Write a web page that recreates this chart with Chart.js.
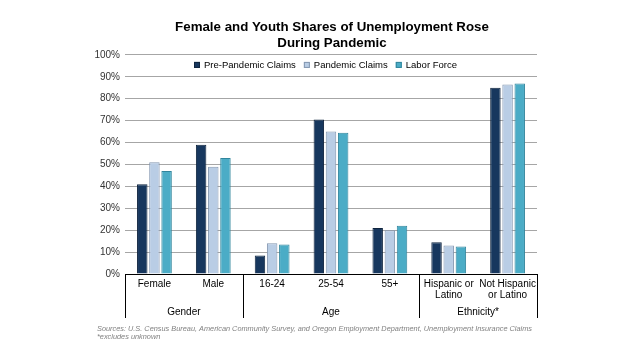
<!DOCTYPE html>
<html>
<head>
<meta charset="utf-8">
<script src="https://cdn.jsdelivr.net/npm/chart.js@4.4.1/dist/chart.umd.min.js"></script>
<style>
  html, body { margin: 0; padding: 0; background: #fff; }
  #wrap { width: 640px; height: 360px; position: relative; }
</style>
</head>
<body>
<div id="wrap"><canvas id="shareChart" width="640" height="360"></canvas></div>
<script>
// categories (multi-line labels) and their groups
var categories = [['Female'], ['Male'], ['16-24'], ['25-54'], ['55+'], ['Hispanic or', 'Latino'], ['Not Hispanic', 'or Latino']];
var groupNames = ['Gender', 'Age', 'Ethnicity*'];
var groupSizes = [2, 3, 2];

// shares in percent
var prePandemic = [41, 59, 8.5, 70.5, 21, 14.5, 85];
var pandemic = [51, 49, 14, 65, 20, 13, 86.5];
var laborForce = [47, 53, 13.5, 64.5, 22, 12.5, 87];

var yTicks = [0, 10, 20, 30, 40, 50, 60, 70, 80, 90, 100];

var titleLines = ['Female and Youth Shares of Unemployment Rose', 'During Pandemic'];
var sourceLines = [
  'Sources: U.S. Census Bureau, American Community Survey, and Oregon Employment Department, Unemployment Insurance Claims',
  '*excludes unknown'
];

var FONT = "'Liberation Sans', Arial, sans-serif";

// legend inside the plot, in one row, like the original
var rowLegendPlugin = {
  id: 'rowLegend',
  afterDatasetsDraw: function (chart) {
    var ctx = chart.ctx;
    var area = chart.chartArea;
    var sets = chart.data.datasets;
    var box = 6, gap = 4, spacing = 8;
    ctx.save();
    ctx.font = '9.5px ' + FONT;
    ctx.textBaseline = 'middle';
    ctx.textAlign = 'left';
    var total = 0;
    sets.forEach(function (ds, i) {
      total += box + gap + ctx.measureText(ds.label).width + (i < sets.length - 1 ? spacing : 0);
    });
    var cx = (area.left + area.right) / 2 - 6;
    var px = Math.round(cx - total / 2);
    var py = area.top + 10;
    sets.forEach(function (ds) {
      ctx.fillStyle = ds.backgroundColor;
      ctx.strokeStyle = ds.borderColor;
      ctx.lineWidth = 1;
      ctx.fillRect(px, py - box / 2, box, box);
      ctx.strokeRect(px + 0.5, py - box / 2 + 0.5, box - 1, box - 1);
      ctx.fillStyle = '#000';
      ctx.fillText(ds.label, px + box + gap, py + 0.5);
      px += box + gap + ctx.measureText(ds.label).width + spacing;
    });
    ctx.restore();
  }
};

// group labels, group separators and the source note under the axis
var groupAxisPlugin = {
  id: 'groupAxis',
  afterDraw: function (chart) {
    var ctx = chart.ctx;
    var x = chart.scales.x;
    var area = chart.chartArea;
    var lineTop = area.bottom;
    var lineBottom = area.bottom + 44;

    ctx.save();
    ctx.strokeStyle = '#000';
    ctx.lineWidth = 1;
    ctx.fillStyle = '#000';
    ctx.font = '10px ' + FONT;
    ctx.textAlign = 'center';
    ctx.textBaseline = 'middle';

    var idx = 0;
    var edges = [area.left];
    groupNames.forEach(function (name, g) {
      var first = idx;
      var last = idx + groupSizes[g] - 1;
      var left = first === 0 ? area.left : (x.getPixelForValue(first - 1) + x.getPixelForValue(first)) / 2;
      var right = last === categories.length - 1 ? area.right : (x.getPixelForValue(last) + x.getPixelForValue(last + 1)) / 2;
      edges.push(right);
      ctx.fillText(name, (left + right) / 2, area.bottom + 38);
      idx = last + 1;
    });

    edges.forEach(function (ex) {
      var px = Math.round(ex) + 0.5;
      ctx.beginPath();
      ctx.moveTo(px, lineTop);
      ctx.lineTo(px, lineBottom);
      ctx.stroke();
    });

    ctx.fillStyle = '#808080';
    ctx.font = 'italic 7.35px ' + FONT;
    ctx.textAlign = 'left';
    sourceLines.forEach(function (t, i) {
      ctx.fillText(t, 97, area.bottom + 55 + i * 8);
    });
    ctx.restore();
  }
};

var ctx = document.getElementById('shareChart').getContext('2d');
var shareChart = new Chart(ctx, {
  type: 'bar',
  data: {
    labels: categories,
    datasets: [{
      label: 'Pre-Pandemic Claims',
      data: prePandemic,
      backgroundColor: '#17375e',
      borderColor: '#0f243e',
      borderWidth: 1
    }, {
      label: 'Pandemic Claims',
      data: pandemic,
      backgroundColor: '#b9cde5',
      borderColor: '#8497b0',
      borderWidth: 1
    }, {
      label: 'Labor Force',
      data: laborForce,
      backgroundColor: '#4bacc6',
      borderColor: '#31859c',
      borderWidth: 1
    }]
  },
  options: {
    responsive: false,
    animation: false,
    devicePixelRatio: 1,
    categoryPercentage: 0.62,
    barPercentage: 0.86,
    layout: {
      padding: { left: 24, right: 0, top: 0, bottom: 0 }
    },
    plugins: {
      title: {
        display: true,
        text: titleLines,
        color: '#000',
        font: { family: FONT, size: 13.3, weight: 'bold', lineHeight: 1.2 },
        padding: { top: 19, bottom: 4 }
      },
      legend: { display: false },
      tooltip: { enabled: false }
    },
    scales: {
      x: {
        grid: { display: false, drawTicks: false },
        border: { display: true, color: '#000', width: 1 },
        ticks: {
          color: '#000',
          font: { family: FONT, size: 10, lineHeight: 1.1 },
          padding: 5,
          maxRotation: 0,
          autoSkip: false
        },
        afterFit: function (scale) { scale.height = 86; }
      },
      y: {
        min: 0,
        max: 100,
        grid: { color: '#a6a6a6', drawTicks: false },
        border: { display: false },
        ticks: {
          stepSize: 10,
          color: '#333',
          padding: 5,
          font: { family: FONT, size: 10 },
          callback: function (v) { return yTicks.indexOf(v) >= 0 ? v + '%' : ''; }
        },
        afterFit: function (scale) { scale.width = 101; }
      },
      y2: {
        position: 'right',
        display: true,
        grid: { display: false, drawTicks: false },
        border: { display: false },
        ticks: { display: false },
        afterFit: function (scale) { scale.width = 103; }
      }
    }
  },
  plugins: [rowLegendPlugin, groupAxisPlugin]
});
</script>
</body>
</html>
